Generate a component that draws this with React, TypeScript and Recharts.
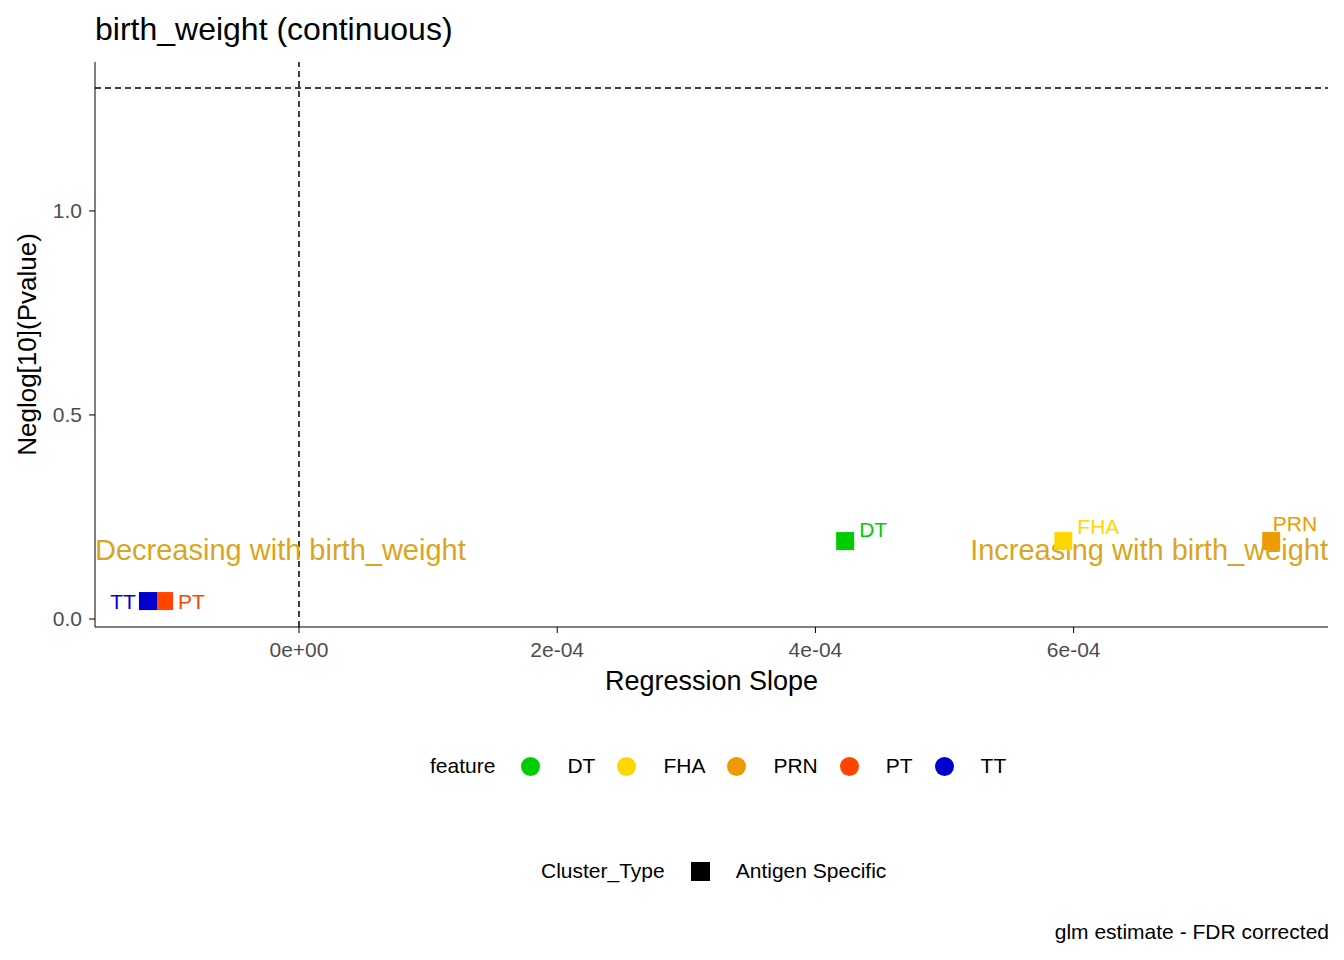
import { ScatterChart, Scatter, XAxis, YAxis, ReferenceLine, ReferenceDot } from 'recharts'

const features = ['DT', 'FHA', 'PRN', 'PT', 'TT']
const slopes = [4.23e-4, 5.92e-4, 7.53e-4, -1.045e-4, -1.17e-4]
const negLogP = [0.191, 0.191, 0.191, 0.044, 0.044]
const colors = ['#00CD00', '#FFD700', '#EE9A00', '#FF4500', '#0000CD']
const xTicks = [0, 2e-4, 4e-4, 6e-4]
const yTicks = [0, 0.5, 1.0]

const labelPos: Record<string, { dx: number; dy: number; anchor: string }> = {
    DT: { dx: 14, dy: -4, anchor: 'start' },
    FHA: { dx: 14, dy: -7, anchor: 'start' },
    PRN: { dx: 46, dy: -10, anchor: 'end' },
    PT: { dx: 14, dy: 8, anchor: 'start' },
    TT: { dx: -12, dy: 8, anchor: 'end' },
}

const font = 'Liberation Sans, Arial, sans-serif'

const Square = (props: any) => {
    const { cx, cy, payload } = props
    const p = labelPos[payload.feature]
    return (
        <g>
            <rect x={cx - 9} y={cy - 9} width={18} height={18} fill={payload.color} />
            <text x={cx + p.dx} y={cy + p.dy} textAnchor={p.anchor} fill={payload.color} fontSize={21} fontFamily={font}>
                {payload.feature}
            </text>
        </g>
    )
}

const fmtX = (v: number) => {
    if (v === 0) return '0e+00'
    const e = Math.floor(Math.log10(Math.abs(v)) + 1e-9)
    const m = Math.round(v / Math.pow(10, e))
    return `${m}e-${String(-e).padStart(2, '0')}`
}

const YLabel = (props: any) => {
    const { viewBox } = props
    const cx = 36
    const cy = viewBox.y + viewBox.height / 2
    return (
        <text x={cx} y={cy} transform={`rotate(-90 ${cx} ${cy})`} textAnchor="middle" fill="#000" fontSize={26} fontFamily={font}>
            Neglog[10](Pvalue)
        </text>
    )
}

export default function App() {
    const data = features.map((f, i) => ({ feature: f, x: slopes[i], y: negLogP[i], color: colors[i] }))
    const anno = (text: string, anchor: string) => (props: any) => (
        <text x={props.viewBox.x} y={props.viewBox.y} textAnchor={anchor} fill="#DAA520" fontSize={29} fontFamily={font}>
            {text}
        </text>
    )
    return (
        <div style={{ position: 'absolute', left: 0, top: 0, width: 1344, height: 960, background: '#fff', fontFamily: font }}>
            <div style={{ position: 'absolute', left: 95, top: 11, fontSize: 32 }}>birth_weight (continuous)</div>
            <ScatterChart width={1344} height={960} margin={{ top: 62, right: 16, bottom: 0, left: 0 }}>
                <XAxis
                    type="number"
                    dataKey="x"
                    domain={[-1.58e-4, 7.97e-4]}
                    ticks={xTicks}
                    tickFormatter={fmtX}
                    allowDataOverflow
                    height={333}
                    stroke="#000"
                    tick={{ fill: '#4d4d4d', fontSize: 21, fontFamily: font }}
                    tickSize={6}
                    tickMargin={9}
                    label={{ value: 'Regression Slope', position: 'insideTop', offset: 44, fill: '#000', fontSize: 27, fontFamily: font }}
                />
                <YAxis
                    type="number"
                    dataKey="y"
                    domain={[-0.0196, 1.365]}
                    ticks={yTicks}
                    tickFormatter={(v: number) => v.toFixed(1)}
                    allowDataOverflow
                    width={95}
                    stroke="#000"
                    tick={{ fill: '#4d4d4d', fontSize: 21, fontFamily: font }}
                    tickSize={6}
                    tickMargin={7}
                    label={YLabel}
                />
                <ReferenceLine y={1.301} stroke="#000" strokeDasharray="6 4" strokeWidth={1.5} />
                <ReferenceLine x={0} stroke="#000" strokeDasharray="6 4" strokeWidth={1.5} />
                <ReferenceDot x={-1.58e-4} y={0.145} r={0} fill="none" stroke="none" label={anno('Decreasing with birth_weight', 'start')} ifOverflow="visible" />
                <ReferenceDot x={7.97e-4} y={0.145} r={0} fill="none" stroke="none" label={anno('Increasing with birth_weight', 'end')} ifOverflow="visible" />
                <Scatter data={data} shape={Square} isAnimationActive={false} />
            </ScatterChart>
            <div style={{ position: 'absolute', top: 754, left: 430, display: 'flex', alignItems: 'center', fontSize: 21 }}>
                <span style={{ marginRight: 26 }}>feature</span>
                {features.map((f, i) => (
                    <span key={f} style={{ display: 'flex', alignItems: 'center', marginRight: 22 }}>
                        <span style={{ width: 19, height: 19, borderRadius: '50%', background: colors[i], marginRight: 27 }} />
                        <span>{f}</span>
                    </span>
                ))}
            </div>
            <div style={{ position: 'absolute', top: 859, left: 541, display: 'flex', alignItems: 'center', fontSize: 21 }}>
                <span style={{ marginRight: 26 }}>Cluster_Type</span>
                <span style={{ width: 19, height: 19, background: '#000', marginRight: 26 }} />
                <span>Antigen Specific</span>
            </div>
            <div style={{ position: 'absolute', top: 920, right: 15, fontSize: 21 }}>glm estimate - FDR corrected</div>
        </div>
    )
}
